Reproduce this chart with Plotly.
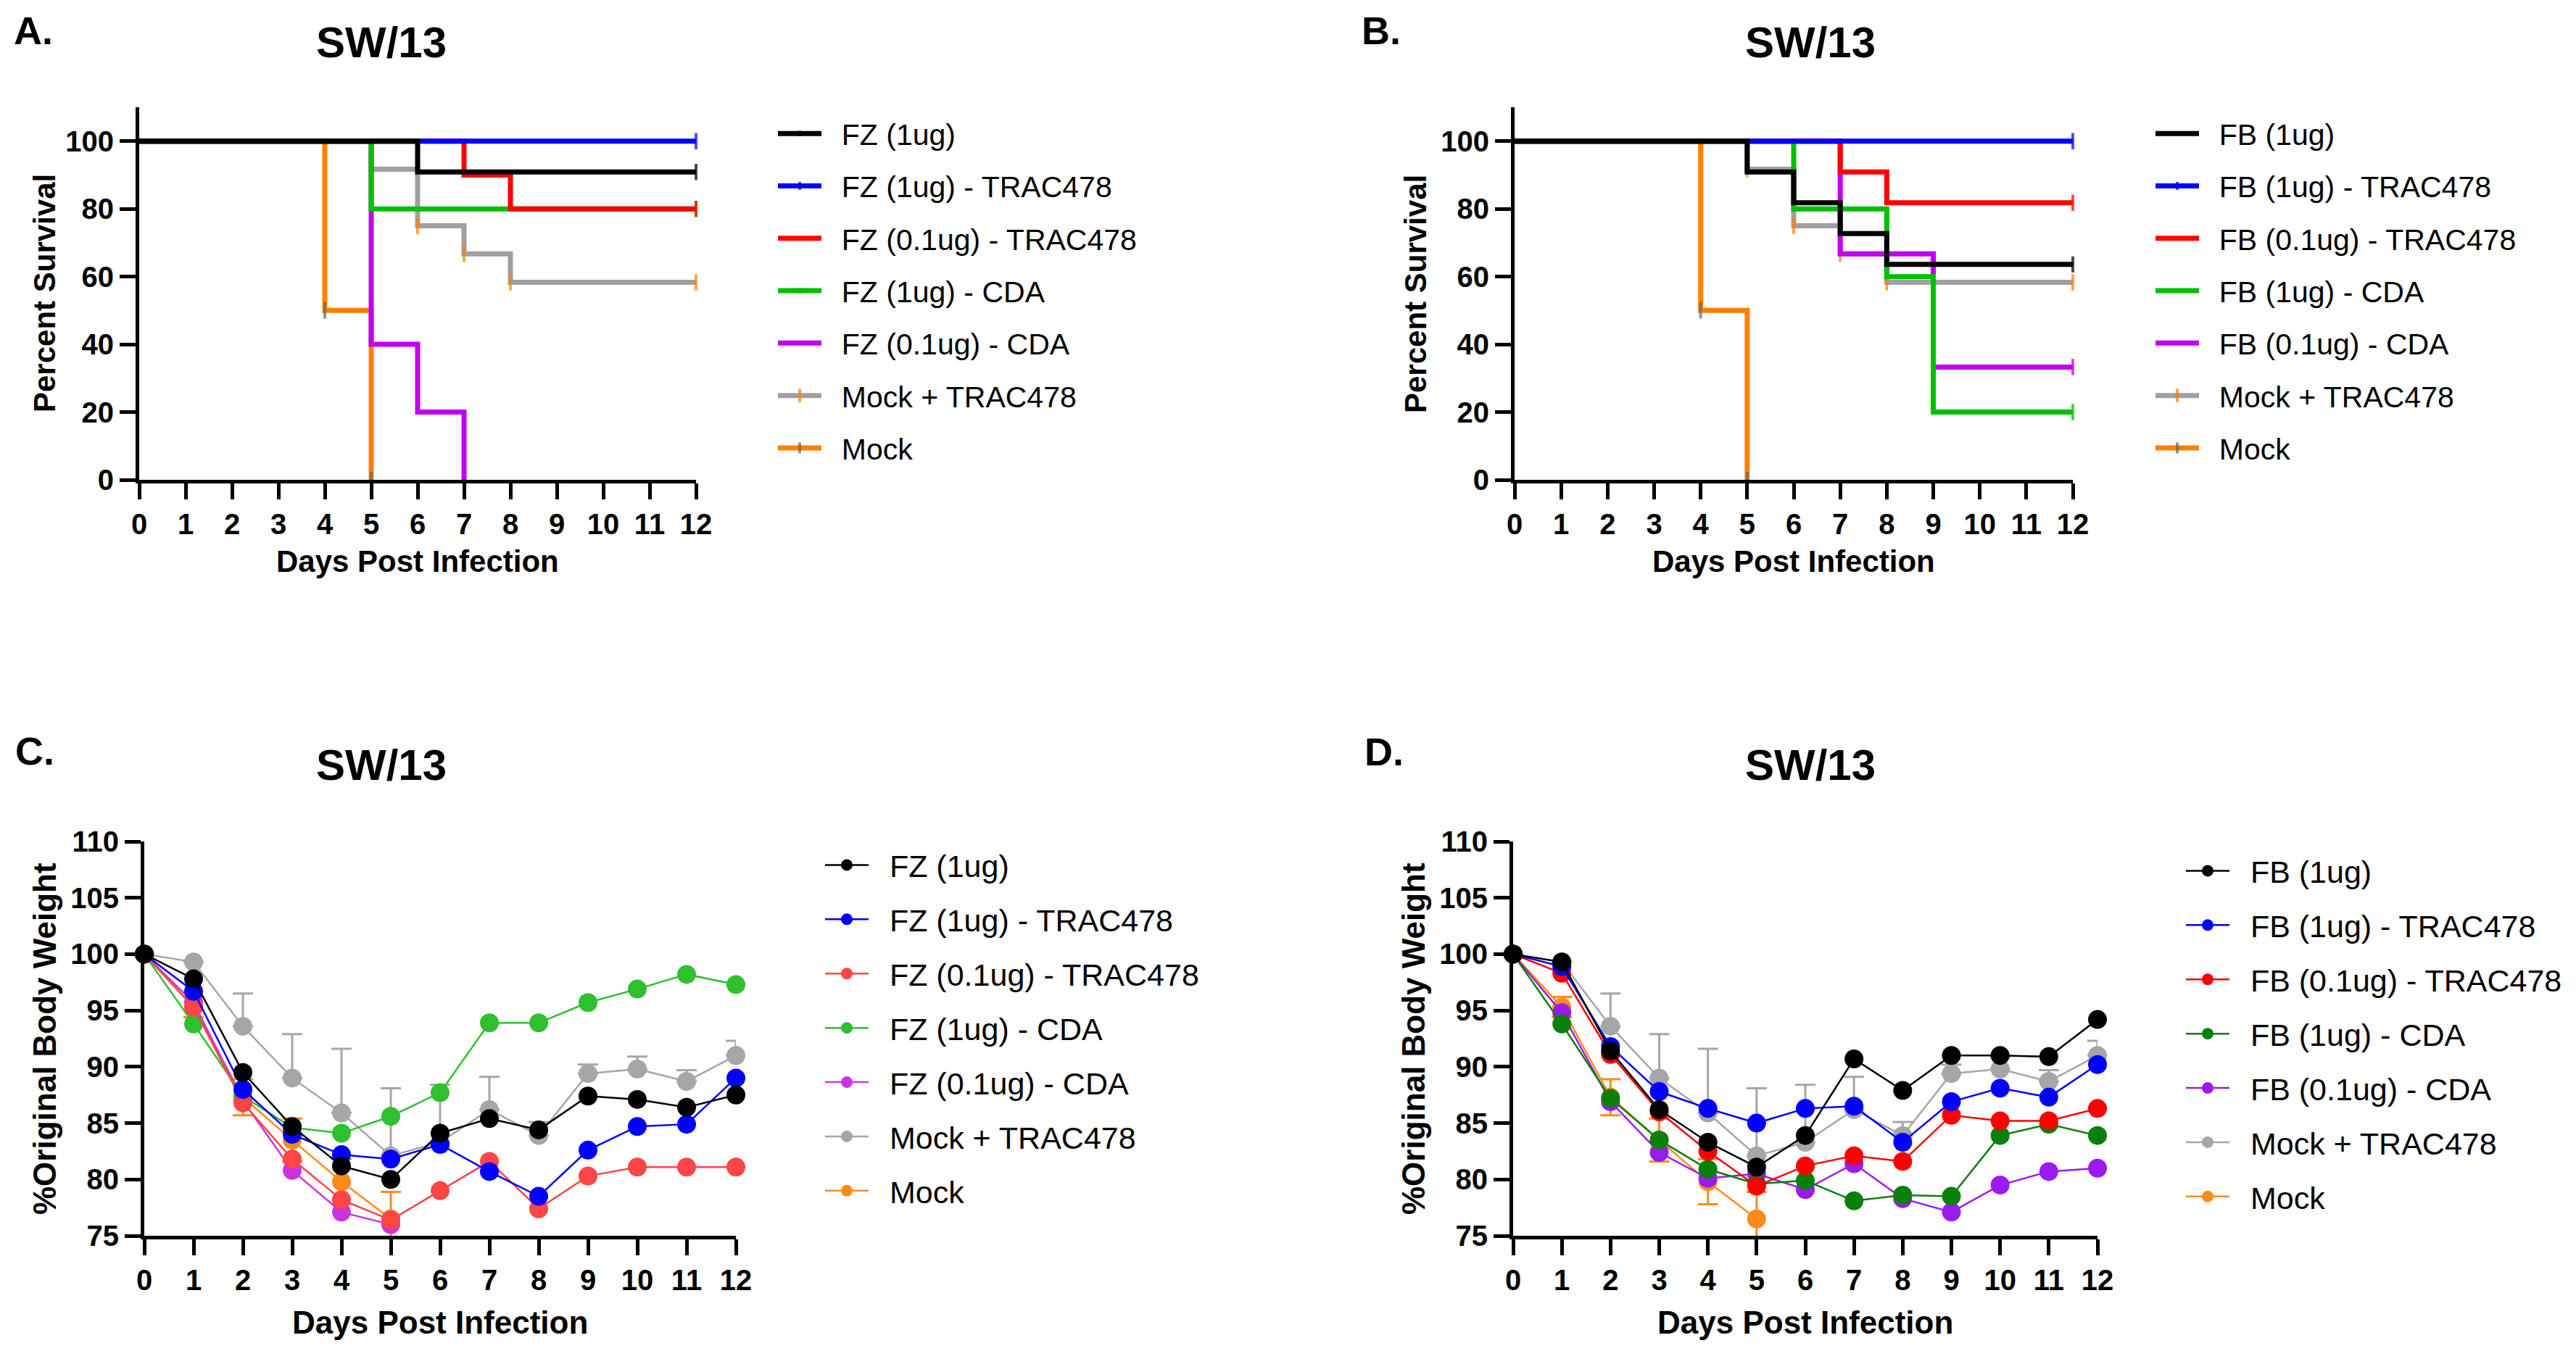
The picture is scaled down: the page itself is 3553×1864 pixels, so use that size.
import plotly.graph_objects as go

# ---------------- DATA ----------------
days = list(range(13))
x_ticks = list(range(13))
surv_ticks = [0, 20, 40, 60, 80, 100]
weight_ticks = [75, 80, 85, 90, 95, 100, 105, 110]

# Panel A: survival (FZ)
names_A = ["FZ (1ug)", "FZ (1ug) - TRAC478", "FZ (0.1ug) - TRAC478",
           "FZ (1ug) - CDA", "FZ (0.1ug) - CDA", "Mock + TRAC478", "Mock"]
a_fz1_t, a_fz1_s = [0, 6, 12], [100, 90.9, 90.9]
a_fz1tr_t, a_fz1tr_s = [0, 12], [100, 100]
a_fz01tr_t, a_fz01tr_s = [0, 7, 8, 12], [100, 90, 80, 80]
a_fz1cda_t, a_fz1cda_s = [0, 5, 12], [100, 80, 80]
a_fz01cda_t, a_fz01cda_s = [0, 5, 6, 7], [100, 40, 20, 0]
mocktr_t, mocktr_s = [0, 5, 6, 7, 8, 12], [100, 91.7, 75, 66.7, 58.3, 58.3]
mock_t, mock_s = [0, 4, 5], [100, 50, 0]

# Panel B: survival (FB)
names_B = ["FB (1ug)", "FB (1ug) - TRAC478", "FB (0.1ug) - TRAC478",
           "FB (1ug) - CDA", "FB (0.1ug) - CDA", "Mock + TRAC478", "Mock"]
b_fb1_t, b_fb1_s = [0, 5, 6, 7, 8, 12], [100, 90.9, 81.8, 72.7, 63.6, 63.6]
b_fb1tr_t, b_fb1tr_s = [0, 12], [100, 100]
b_fb01tr_t, b_fb01tr_s = [0, 7, 8, 12], [100, 90.9, 81.8, 81.8]
b_fb1cda_t, b_fb1cda_s = [0, 6, 8, 9, 12], [100, 80, 60, 20, 20]
b_fb01cda_t, b_fb01cda_s = [0, 7, 9, 12], [100, 66.7, 33.3, 33.3]

# Panel C: body weight (FZ)
c_fz1 = [100, 97.8, 89.5, 84.7, 81.2, 80.0, 84.1, 85.4, 84.4, 87.4, 87.1, 86.4, 87.5]
c_fz1tr = [100, 96.7, 88.0, 84.0, 82.2, 81.8, 83.1, 80.7, 78.5, 82.6, 84.7, 84.9, 89.0]
c_fz01tr = [100, 95.3, 86.8, 81.8, 78.2, 76.4, 79.0, 81.6, 77.4, 80.3, 81.1, 81.1, 81.1]
c_fz1cda = [100, 93.8, 87.4, 84.6, 84.1, 85.6, 87.7, 93.9, 93.9, 95.7, 96.9, 98.2, 97.3]
c_fz01cda = [100, 95.7, 87.0, 80.8, 77.1, 76.0]
mocktr_w = [100, 99.3, 93.6, 89.0, 85.9, 82.1, 83.3, 86.2, 83.9, 89.4, 89.8, 88.7, 91.0]
mocktr_err = [0, 0, 2.9, 3.9, 5.7, 6.0, 5.1, 2.9, 1.2, 0.8, 1.1, 1.0, 1.3]
mock_w = [100, 95.3, 87.3, 83.5, 79.8, 76.5]
mock_err = [0, 0.9, 1.6, 1.9, 2.0, 2.4]

# Panel D: body weight (FB)
d_fb1 = [100, 99.3, 91.4, 86.2, 83.3, 81.1, 83.9, 90.7, 87.9, 91.0, 91.0, 90.9, 94.2]
d_fb1tr = [100, 98.9, 91.8, 87.8, 86.3, 85.0, 86.3, 86.5, 83.3, 86.9, 88.1, 87.3, 90.2]
d_fb01tr = [100, 98.3, 91.1, 86.0, 82.5, 79.4, 81.2, 82.1, 81.6, 85.7, 85.2, 85.2, 86.3]
d_fb1cda = [100, 93.8, 87.2, 83.5, 80.9, 79.6, 79.9, 78.1, 78.6, 78.5, 83.9, 84.9, 83.9]
d_fb01cda = [100, 94.8, 86.9, 82.4, 80.1, 80.5, 79.1, 81.4, 78.3, 77.1, 79.5, 80.7, 81.0]

# ---------------- STYLE ----------------
W, H = 3553, 1864
OFF = 8  # page body margin compensation
FONT = "Liberation Sans, Arial, Helvetica, sans-serif"
col_surv = ["#000000", "#0000FF", "#FF0000", "#00C000", "#C000F0", "#A0A0A0", "#FF8000"]
tick_surv = ["#000000", "#0000FF", "#FF0000", "#00C000", "#C000F0", "#FF8000", "#666666"]
col_C = ["#000000", "#0000FF", "#FF4545", "#2EC02E", "#CC33E0", "#A6A6A6", "#FF8A1A"]
col_D = ["#000000", "#0000FF", "#FF0000", "#0A800A", "#9A1AF0", "#A6A6A6", "#FF8A1A"]
PAD = "\u00a0\u00a0"


def px(x):
    return (x - OFF) / W


def py(y):
    return 1 - (y - OFF) / H


fig = go.Figure()

surv_A = [(a_fz1_t, a_fz1_s), (a_fz1tr_t, a_fz1tr_s), (a_fz01tr_t, a_fz01tr_s),
          (a_fz1cda_t, a_fz1cda_s), (a_fz01cda_t, a_fz01cda_s),
          (mocktr_t, mocktr_s), (mock_t, mock_s)]
surv_B = [(b_fb1_t, b_fb1_s), (b_fb1tr_t, b_fb1tr_s), (b_fb01tr_t, b_fb01tr_s),
          (b_fb1cda_t, b_fb1cda_s), (b_fb01cda_t, b_fb01cda_s),
          (mocktr_t, mocktr_s), (mock_t, mock_s)]


def add_surv(series, names, xa, ya, leg):
    # drawn in reverse so the first legend entry sits on top
    for i in reversed(range(len(series))):
        t, s = series[i]
        mock = i >= 5
        sizes = []
        for k in range(len(t)):
            if k == 0:
                sizes.append(0)
            elif mock or (k == len(t) - 1 and s[k] > 0):
                sizes.append(16)
            else:
                sizes.append(0)
        fig.add_trace(go.Scatter(
            x=t, y=s, name=PAD + names[i], mode="lines+markers",
            line=dict(color=col_surv[i], width=7, shape="hv"),
            marker=dict(symbol="line-ns", size=sizes,
                        line=dict(color=tick_surv[i], width=4)),
            xaxis=xa, yaxis=ya, legend=leg, legendgroup=leg + str(i),
            legendrank=i + 1, cliponaxis=False))


add_surv(surv_A, names_A, "x", "y", "legend")
add_surv(surv_B, names_B, "x2", "y2", "legend2")

weight_C = [c_fz1, c_fz1tr, c_fz01tr, c_fz1cda, c_fz01cda, mocktr_w, mock_w]
weight_D = [d_fb1, d_fb1tr, d_fb01tr, d_fb1cda, d_fb01cda, mocktr_w, mock_w]


def add_weight(series, names, cols, xa, ya, leg):
    for i in reversed(range(len(series))):
        yv = series[i]
        err = None
        if i == 5:
            err = dict(type="data", array=mocktr_err, arrayminus=[0] * len(mocktr_err),
                       color=cols[i], thickness=3, width=14)
        elif i == 6:
            err = dict(type="data", array=mock_err, color=cols[i], thickness=3, width=14)
        fig.add_trace(go.Scatter(
            x=days[:len(yv)], y=yv, name=PAD + names[i], mode="lines+markers",
            line=dict(color=cols[i], width=2.5),
            marker=dict(symbol="circle", size=26, color=cols[i]),
            error_y=err, xaxis=xa, yaxis=ya, legend=leg,
            legendgroup=leg + str(i), legendrank=i + 1, cliponaxis=False))


add_weight(weight_C, names_A, col_C, "x3", "y3", "legend3")
add_weight(weight_D, names_B, col_D, "x4", "y4", "legend4")

# ---------------- AXES ----------------
tickfont = dict(family=FONT, size=40, color="black", weight="bold")
common = dict(showline=True, linewidth=5, linecolor="black", ticks="outside",
              ticklen=22, tickwidth=5, tickcolor="black", showgrid=False,
              zeroline=False, tickfont=tickfont, fixedrange=True, automargin=False)

domA_x = [px(192), px(960)]
domB_x = [px(2089), px(2859)]
domC_x = [px(199), px(1015)]
domD_x = [px(2087), px(2893)]
dom_top = [py(662), py(148)]
dom_bot = [py(1705), py(1161)]

fig.update_layout(
    xaxis=dict(domain=domA_x, range=[0, 12], tickvals=x_ticks, anchor="y", **common),
    yaxis=dict(domain=dom_top, range=[0, 110], tickvals=surv_ticks, anchor="x", **common),
    xaxis2=dict(domain=domB_x, range=[0, 12], tickvals=x_ticks, anchor="y2", **common),
    yaxis2=dict(domain=dom_top, range=[0, 110], tickvals=surv_ticks, anchor="x2", **common),
    xaxis3=dict(domain=domC_x, range=[0, 12], tickvals=x_ticks, anchor="y3", **common),
    yaxis3=dict(domain=dom_bot, range=[75, 110], tickvals=weight_ticks, anchor="x3", **common),
    xaxis4=dict(domain=domD_x, range=[0, 12], tickvals=x_ticks, anchor="y4", **common),
    yaxis4=dict(domain=dom_bot, range=[75, 110], tickvals=weight_ticks, anchor="x4", **common),
)


# ---------------- LEGENDS ----------------
def legend_cfg(x_left, y_top, size, gap):
    return dict(x=px(x_left), y=py(y_top), xanchor="left", yanchor="top",
                font=dict(family=FONT, size=size, color="black"),
                bgcolor="rgba(0,0,0,0)", borderwidth=0, itemwidth=60,
                tracegroupgap=gap, traceorder="grouped", itemclick=False)


fig.update_layout(
    legend=legend_cfg(1068, 151, 41, 16),
    legend2=legend_cfg(2968, 151, 41, 16),
    legend3=legend_cfg(1133, 1159, 43, 16),
    legend4=legend_cfg(3010, 1167, 43, 16),
)

# ---------------- TEXT ----------------
ann = []


def text(x, y, s, size, rot=0):
    ann.append(dict(x=px(x), y=py(y), xref="paper", yref="paper", text=s,
                    showarrow=False, textangle=rot, xanchor="center", yanchor="middle",
                    font=dict(family=FONT, size=size, color="black", weight="bold")))


# panel letters
text(46, 42, "A.", 54)
text(1905, 42, "B.", 54)
text(48, 1036, "C.", 54)
text(1909, 1037, "D.", 54)
# titles
text(526, 59, "SW/13", 60)
text(2497, 59, "SW/13", 60)
text(526, 1055, "SW/13", 60)
text(2497, 1055, "SW/13", 60)
# axis titles
text(576, 775, "Days Post Infection", 42)
text(2474, 775, "Days Post Infection", 42)
text(607, 1824, "Days Post Infection", 44)
text(2490, 1824, "Days Post Infection", 44)
text(61, 405, "Percent Survival", 42, -90)
text(1952, 405, "Percent Survival", 42, -90)
text(61, 1433, "%Original Body Weight", 44, -90)
text(1949, 1433, "%Original Body Weight", 44, -90)

fig.update_layout(
    annotations=ann, width=W, height=H,
    margin=dict(l=0, r=0, t=0, b=0, pad=0, autoexpand=False),
    paper_bgcolor="white", plot_bgcolor="white",
    showlegend=True,
)

fig.write_html("out.html")
